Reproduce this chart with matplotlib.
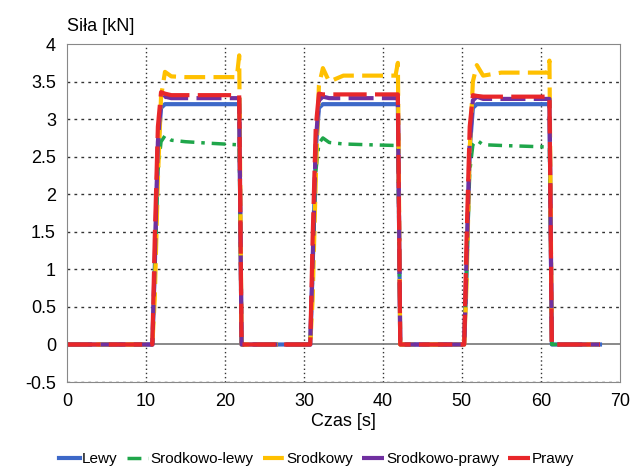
import matplotlib.pyplot as plt

plt.rcParams['font.family'] = ['Liberation Sans', 'DejaVu Sans']

# time samples [s]
t = [0, 10.8, 11.1, 11.5, 11.9, 12.4, 13.2, 15, 18, 21.5, 21.8, 22.1,
     30.8, 31.1, 31.5, 31.9, 32.4, 33.2, 35, 38, 41.6, 41.9, 42.2,
     50.3, 50.6, 51.0, 51.4, 51.9, 52.7, 55, 58, 60.8, 61.1, 61.4, 67.5]

lewy = [0,
        0, 1.0, 2.6, 3.15, 3.2, 3.2, 3.2, 3.2, 3.2, 3.2, 0,
        0, 1.0, 2.6, 3.15, 3.2, 3.2, 3.2, 3.2, 3.2, 3.2, 0,
        0, 1.0, 2.6, 3.15, 3.2, 3.2, 3.2, 3.2, 3.2, 3.2, 0,
        0]
srodkowo_lewy = [0,
                 0, 0.9, 2.3, 2.7, 2.78, 2.72, 2.7, 2.68, 2.66, 2.66, 0,
                 0, 0.9, 2.3, 2.68, 2.75, 2.69, 2.67, 2.66, 2.65, 2.65, 0,
                 0, 0.9, 2.3, 2.66, 2.72, 2.66, 2.65, 2.64, 2.63, 2.63, 0,
                 0]
srodkowy = [0,
            0, 0.6, 2.2, 3.3, 3.63, 3.57, 3.56, 3.56, 3.56, 3.85, 0,
            0, 0.6, 2.2, 3.45, 3.68, 3.5, 3.58, 3.58, 3.58, 3.75, 0,
            0, 0.8, 2.6, 3.5, 3.72, 3.58, 3.62, 3.62, 3.62, 3.78, 0,
            0]
srodkowo_prawy = [0,
                  0, 1.1, 2.7, 3.25, 3.3, 3.28, 3.28, 3.28, 3.28, 3.28, 0,
                  0, 1.1, 2.7, 3.25, 3.3, 3.28, 3.28, 3.28, 3.28, 3.28, 0,
                  0, 1.1, 2.7, 3.25, 3.3, 3.27, 3.27, 3.27, 3.27, 3.27, 0,
                  0]
prawy = [0,
         0, 1.4, 2.9, 3.36, 3.34, 3.32, 3.32, 3.32, 3.32, 3.32, 0,
         0, 1.4, 2.9, 3.34, 3.33, 3.33, 3.33, 3.33, 3.33, 3.33, 0,
         0, 1.4, 2.9, 3.32, 3.31, 3.3, 3.3, 3.3, 3.3, 3.3, 0,
         0]

fig = plt.figure(figsize=(6.33, 4.74), dpi=100)
ax = fig.add_axes([0.106, 0.194, 0.873, 0.713])

ax.axhline(0, color='#808080', lw=1.3, zorder=1)
ax.plot(t, lewy, color='#3d68c8', lw=3, label='Lewy')
ax.plot(t, srodkowo_lewy, color='#1fa64a', lw=2.5, ls=(0, (4, 2, 1, 2)), label='Srodkowo-lewy')
ax.plot(t, srodkowy, color='#ffc000', lw=3, ls=(0, (5, 2)), label='Srodkowy')
ax.plot(t, srodkowo_prawy, color='#7030a0', lw=3, ls=(0, (6, 2)), label='Srodkowo-prawy')
ax.plot(t, prawy, color='#e8272a', lw=3, ls=(0, (8, 2)), label='Prawy')

ax.set_xlim(0, 70)
ax.set_ylim(-0.5, 4)
ax.set_xticks(range(0, 71, 10))
ax.set_yticks([-0.5, 0, 0.5, 1, 1.5, 2, 2.5, 3, 3.5, 4])
ax.set_yticklabels(['-0.5', '0', '0.5', '1', '1.5', '2', '2.5', '3', '3.5', '4'])
ax.tick_params(labelsize=13, length=0, pad=8)
for y in [-0.5, 0.5, 1, 1.5, 2, 2.5, 3, 3.5]:
    ax.axhline(y, color='#333333', lw=1, ls=(0, (2, 3)), zorder=0)
for x in range(10, 70, 10):
    ax.axvline(x, color='#333333', lw=1, ls=(0, (1, 2)), zorder=0)
for s in ax.spines.values():
    s.set_color('#888888')

ax.set_xlabel('Czas [s]', fontsize=13, labelpad=2)
fig.text(0.106, 0.945, 'Siła [kN]', fontsize=13, ha='left', va='center')

fig.legend(loc='lower center', bbox_to_anchor=(0.5, -0.012), ncol=5, frameon=False,
           fontsize=11, handlelength=1.4, handletextpad=0.15, columnspacing=0.6)

fig.savefig('out.png', dpi=100)
